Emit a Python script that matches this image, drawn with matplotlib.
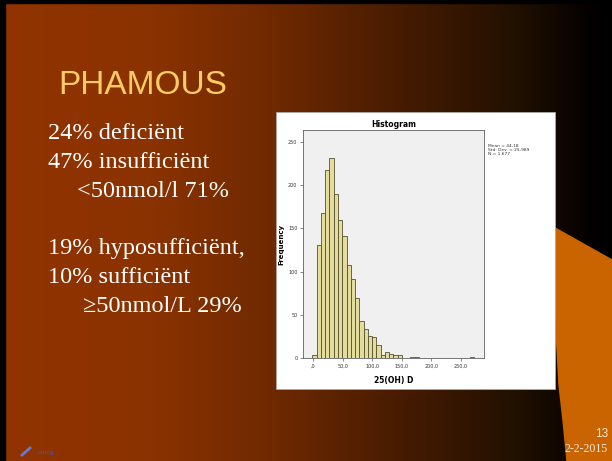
import numpy as np
import matplotlib.pyplot as plt
from matplotlib.colors import LinearSegmentedColormap
from matplotlib.patches import Rectangle, Polygon

# histogram data
bin_start = -1.0
bin_width = 7.2
counts = [4, 131, 168, 218, 231, 190, 160, 141, 108, 92, 70, 43, 34, 25, 24, 15,
          4, 7, 5, 3, 4, 0, 0, 1, 1, 0, 0, 0, 0, 0, 0, 0, 0, 0, 0, 0, 0, 1]
yticks = [0, 50, 100, 150, 200, 250]
xticks = [0, 50, 100, 150, 200, 250]
xtick_labels = [',0', '50,0', '100,0', '150,0', '200,0', '250,0']
stats_lines = ['Mean = 44,18', 'Std. Dev. = 25,989', 'N = 1.677']

title = 'PHAMOUS'
body_lines = [
    ('24% deficiënt', 48, 133),
    ('47% insufficiënt', 48, 162),
    ('<50nmol/l 71%', 77, 191),
    ('19% hyposufficiënt,', 48, 248),
    ('10% sufficiënt', 48, 277),
    ('≥50nmol/L 29%', 83, 306),
]

W, H = 612, 461
fig = plt.figure(figsize=(W / 100, H / 100), dpi=100)

# slide background
bg = fig.add_axes([0, 0, 1, 1])
bg.set_xlim(0, W)
bg.set_ylim(H, 0)
bg.axis('off')
grad = LinearSegmentedColormap.from_list('slide', [
    (0.0, '#913400'), (0.25, '#8a3200'), (0.45, '#6e2900'),
    (0.65, '#481c00'), (0.85, '#201000'), (0.97, '#040000'), (1.0, '#000000')])
bg.imshow(np.linspace(0, 1, 400)[None, :], cmap=grad, aspect='auto',
          extent=[0, W, H, 0], zorder=0)
bg.add_patch(Rectangle((0, 0), W, 3, color='black', zorder=1))
bg.add_patch(Rectangle((0, 0), 5, H, color='black', zorder=1))
bg.add_patch(Polygon([(555, 228), (612, 260), (612, 461), (567, 461),
                      (563, 420), (559, 385), (556, 330)],
                     closed=True, color='#c96400', zorder=1))
bg.add_patch(Rectangle((276, 112), 279, 277, facecolor='white',
                       edgecolor='#b0a8a0', linewidth=0.6, zorder=2))

bg.text(58, 86, title, color='#ffcc66', fontsize=24, family='Liberation Sans',
        va='center', ha='left', zorder=3)
for txt, x, y in body_lines:
    bg.text(x, y, txt, color='white', fontsize=17.5, family='Liberation Serif',
            va='center', ha='left', zorder=3)

bg.text(608, 434, '13', color='#f5e8dc', fontsize=8.5, family='Liberation Sans',
        ha='right', va='center', zorder=3)
bg.text(608, 449, '2-2-2015', color='#f5e8dc', fontsize=8.5,
        family='Liberation Serif', ha='right', va='center', zorder=3)
bg.text(38, 452, 'umcg', color='#5a4a9a', fontsize=4.5, family='Liberation Sans',
        fontweight='bold', ha='left', va='center', zorder=3)
bg.plot([22, 30], [455, 448], color='#6a7ad0', linewidth=2, zorder=3)

# histogram
ax = fig.add_axes([303 / W, 1 - 358 / H, 181 / W, 228 / H])
counts = np.array(counts)
lefts = bin_start + bin_width * np.arange(len(counts))
keep = counts > 0
ax.bar(lefts[keep], counts[keep], width=bin_width, align='edge',
       color='#e4dc9c', edgecolor='#55502f', linewidth=0.6)
ax.set_facecolor('#f0f0f0')
ax.set_xlim(-17, 289)
ax.set_ylim(0, 264)
ax.set_yticks(yticks)
ax.set_yticklabels([str(v) for v in yticks])
ax.set_xticks(xticks)
ax.set_xticklabels(xtick_labels)
ax.tick_params(labelsize=3.5, length=2, width=0.4, colors='#333333', pad=2)
for side in ['top', 'right', 'left', 'bottom']:
    ax.spines[side].set_color('#606060')
    ax.spines[side].set_linewidth(0.6)
ax.set_title('Histogram', fontsize=5.5, fontweight='bold', pad=2.5)
ax.set_ylabel('Frequency', fontsize=5, fontweight='bold', labelpad=3)
ax.set_xlabel('25(OH) D', fontsize=5.5, fontweight='bold', labelpad=5)

fig.text(488 / W, 1 - 150 / H, '\n'.join(stats_lines), fontsize=3.2,
         color='#333333', ha='left', va='center', linespacing=1.1)

fig.savefig('out.png', dpi=100)
